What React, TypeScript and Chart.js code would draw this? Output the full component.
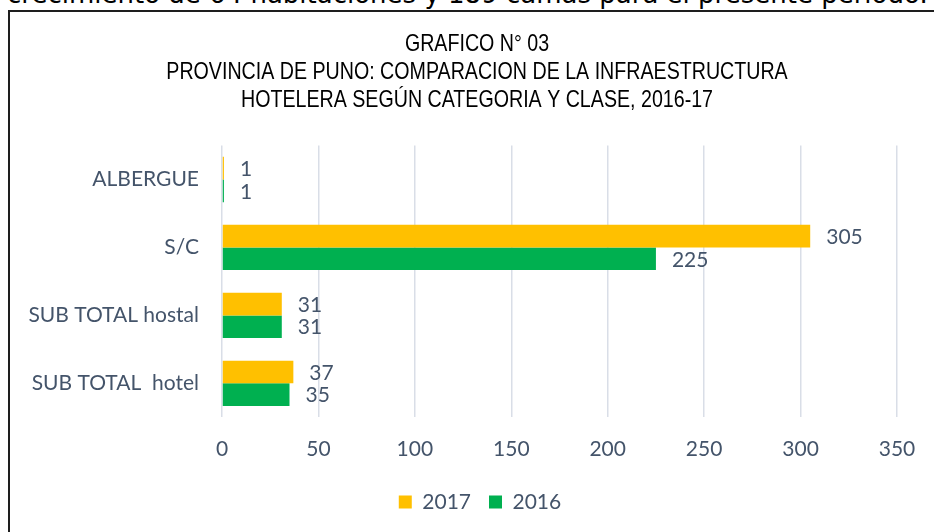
import React, { useEffect, useRef } from "react";
import { Chart, registerables } from "chart.js";

Chart.register(...registerables);

const categories = ["ALBERGUE", "S/C", "SUB TOTAL hostal", "SUB TOTAL  hotel"];
const values2017 = [1, 305, 31, 37];
const values2016 = [1, 225, 31, 35];
const seriesNames = ["2017", "2016"];
const titleLines = [
  "GRAFICO N° 03",
  "PROVINCIA DE PUNO: COMPARACION DE LA INFRAESTRUCTURA",
  "HOTELERA SEGÚN CATEGORIA Y CLASE, 2016-17",
];
const xMin = 0;
const xMax = 350;
const xStep = 50;
const introText = "crecimiento de 64 habitaciones y 189 camas para el presente periodo.";

const TEXT = "#44546A";
const YELLOW = "#FFC000";
const GREEN = "#00B050";
const GRID = "#D9DEE7";
const BODY_FONT = "Lato, 'Open Sans', sans-serif";
const TITLE_FONT = "'Liberation Sans', Arial, sans-serif";

const dataLabels = {
  id: "dataLabels",
  afterDatasetsDraw(chart: any) {
    const ctx = chart.ctx;
    ctx.save();
    ctx.font = `21px ${BODY_FONT}`;
    ctx.fillStyle = TEXT;
    ctx.textAlign = "left";
    ctx.textBaseline = "middle";
    chart.data.datasets.forEach((ds: any, i: number) => {
      const meta = chart.getDatasetMeta(i);
      meta.data.forEach((el: any, j: number) => {
        ctx.fillText(String(ds.data[j]), el.x + 16, el.y + 1);
      });
    });
    ctx.restore();
  },
};

// Narrow (Arial Narrow-like) multi-line title, drawn condensed
const narrowTitle = {
  id: "narrowTitle",
  afterDraw(chart: any) {
    const ctx = chart.ctx;
    ctx.save();
    ctx.font = `24px ${TITLE_FONT}`;
    ctx.fillStyle = "#000000";
    ctx.textAlign = "center";
    ctx.textBaseline = "middle";
    const cx = 477;
    titleLines.forEach((line, i) => {
      ctx.save();
      ctx.translate(cx, 44 + i * 28.2);
      ctx.scale(0.818, 1);
      ctx.fillText(line, 0, 0);
      ctx.restore();
    });
    ctx.restore();
  },
};

export default function App() {
  const canvasRef = useRef<HTMLCanvasElement | null>(null);

  useEffect(() => {
    if (!canvasRef.current) return;
    const chart = new Chart(canvasRef.current, {
      type: "bar",
      data: {
        labels: categories,
        datasets: [
          {
            label: seriesNames[0],
            data: values2017,
            backgroundColor: YELLOW,
            categoryPercentage: 0.667,
            barPercentage: 1,
            xAxisID: "x",
            yAxisID: "y",
          },
          {
            label: seriesNames[1],
            data: values2016,
            backgroundColor: GREEN,
            categoryPercentage: 0.667,
            barPercentage: 1,
            xAxisID: "x",
            yAxisID: "y",
          },
        ],
      },
      options: {
        indexAxis: "y",
        responsive: false,
        animation: false,
        devicePixelRatio: 1,
        layout: { padding: { left: 0, right: 0, top: 145.5, bottom: 9.5 } },
        scales: {
          x: {
            min: xMin,
            max: xMax,
            ticks: {
              stepSize: xStep,
              color: TEXT,
              font: { family: BODY_FONT, size: 21 },
              padding: 19,
            },
            grid: { color: GRID, lineWidth: 1.5, drawTicks: false },
            border: { display: false },
            afterFit: (scale: any) => {
              scale.height = 56.2;
            },
          },
          y: {
            position: "left",
            ticks: {
              color: TEXT,
              font: { family: BODY_FONT, size: 21 },
              padding: 23,
            },
            grid: { display: false, drawTicks: false },
            border: { display: false },
            afterFit: (scale: any) => {
              scale.width = 222;
            },
          },
          yRight: {
            type: "category",
            axis: "y",
            position: "right",
            ticks: { display: false },
            grid: { display: false, drawTicks: false },
            border: { display: false },
            afterFit: (scale: any) => {
              scale.width = 63;
            },
          },
        },
        plugins: {
          title: { display: false },
          legend: {
            display: true,
            position: "bottom",
            labels: {
              color: TEXT,
              font: { family: BODY_FONT, size: 21 },
              boxWidth: 13,
              boxHeight: 13,
              padding: 18,
            },
          },
          tooltip: { enabled: false },
        },
      },
      plugins: [dataLabels, narrowTitle],
    });
    return () => chart.destroy();
  }, []);

  return (
    <div
      style={{
        position: "fixed",
        left: 0,
        top: 0,
        width: 934,
        height: 532,
        overflow: "hidden",
        background: "#ffffff",
      }}
    >
      <div
        style={{
          position: "absolute",
          left: 7,
          top: -19,
          fontFamily: "'DejaVu Sans', sans-serif",
          fontSize: 26,
          lineHeight: "26px",
          whiteSpace: "nowrap",
          color: "#000",
        }}
      >
        {introText}
      </div>
      <div
        style={{
          position: "absolute",
          left: 8,
          top: 10,
          width: 960,
          height: 560,
          border: "2px solid #1e1e1e",
          boxSizing: "border-box",
        }}
      />
      <canvas
        ref={canvasRef}
        width={960}
        height={532}
        style={{ position: "absolute", left: 0, top: 0, width: 960, height: 532 }}
      />
    </div>
  );
}
